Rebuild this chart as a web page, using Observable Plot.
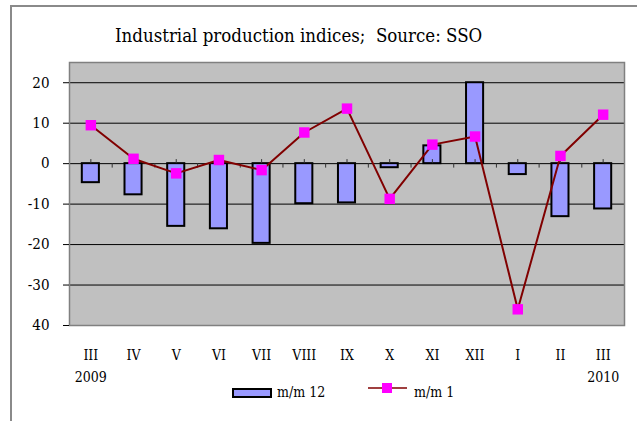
<!DOCTYPE html>
<html>
<head>
<meta charset="utf-8">
<script src="https://cdn.jsdelivr.net/npm/d3@7"></script>
<script src="https://cdn.jsdelivr.net/npm/@observablehq/plot@0.6"></script>
<style>
  html, body { margin: 0; padding: 0; background: #fff; }
  #wrap { position: relative; width: 637px; height: 421px; overflow: hidden; font-family: "DejaVu Serif", serif; font-stretch: condensed; }
  #border { position: absolute; left: 10px; top: 5px; width: 700px; height: 500px; border-top: 2px solid #8a8a8a; border-left: 2px solid #8a8a8a; }
  #title { position: absolute; left: 115px; top: 27px; font-size: 18.5px; line-height: 18px; white-space: pre; color: #000; }
  .lg { position: absolute; font-size: 14px; line-height: 14px; white-space: pre; color: #000; }
  #chart { position: absolute; left: 0; top: 0; }
</style>
</head>
<body>
<div id="wrap">
  <div id="chart"></div>
  <div id="border"></div>
  <div id="title">Industrial production indices;  Source: SSO</div>
  <div class="lg" style="left:232px;top:388px;width:36px;height:6px;background:#9999FF;border:2px solid #000;"></div>
  <div class="lg" style="left:277px;top:385px;">m/m 12</div>
  <svg class="lg" style="left:366px;top:382px;" width="44" height="12">
    <line x1="2" y1="6" x2="41" y2="6" stroke="#800000" stroke-width="1.5"/>
    <rect x="16" y="1" width="10" height="10" fill="#FF00FF"/>
  </svg>
  <div class="lg" style="left:414px;top:385px;">m/m 1</div>
</div>
<script>
const months = ["III","IV","V","VI","VII","VIII","IX","X","XI","XII","I","II","III"];
const m12 = [-4.7, -7.7, -15.5, -16.1, -19.7, -9.9, -9.7, -1.0, 4.4, 20.0, -2.7, -13.1, -11.2];
const m1 = [9.5, 1.2, -2.4, 0.9, -1.6, 7.7, 13.6, -8.7, 4.7, 6.7, -36.0, 1.9, 12.1];
const yearLabels = [{i: 0, text: "2009"}, {i: 12, text: "2010"}];
const yTicks = [-40, -30, -20, -10, 0, 10, 20];
const yTickLabels = ["40", "-30", "-20", "-10", "0", "10", "20"];
const gridVals = [-30, -20, -10, 0, 10, 20];

const data = months.map((m, i) => ({i, month: m, m12: m12[i], m1: m1[i]}));
const boundaries = data.map(d => d.i + 0.5);

const plot = Plot.plot({
  width: 637,
  height: 421,
  marginLeft: 69,
  marginRight: 13,
  marginTop: 62,
  marginBottom: 96,
  style: {fontFamily: "'DejaVu Serif', serif", fontStretch: "condensed", fontSize: "15px", background: "transparent", color: "#000"},
  x: {type: "linear", domain: [-0.5, 12.5], label: null},
  y: {domain: [-40, 25], label: null},
  marks: [
    Plot.frame({fill: "#C0C0C0", stroke: "none"}),
    Plot.ruleY(gridVals, {stroke: "#000", strokeWidth: 1}),
    Plot.rectY(data, {x1: d => d.i - 0.2, x2: d => d.i + 0.2, y1: 0, y2: "m12", fill: "#9999FF", stroke: "#000", strokeWidth: 2}),
    Plot.ruleX(data, {x: "i", y1: 0, y2: 1, stroke: "#333", strokeWidth: 1}),
    Plot.ruleX(boundaries, {x: d => d, y1: 0, y2: -1.1, stroke: "#333", strokeWidth: 1}),
    Plot.frame({stroke: "#808080", strokeWidth: 1.5}),
    Plot.line(data, {x: "i", y: "m1", stroke: "#800000", strokeWidth: 2}),
    Plot.dot(data, {x: "i", y: "m1", symbol: "square", r: 5.9, fill: "#FF00FF", stroke: "none"}),
    Plot.axisY({ticks: yTicks, tickFormat: d => yTickLabels[yTicks.indexOf(d)], tickSize: 6, tickPadding: 14, fontSize: 15, stroke: "#000", label: null}),
    Plot.axisX({ticks: data.map(d => d.i), tickFormat: i => months[i], tickSize: 0, tickPadding: 25, fontSize: 14, label: null}),
    Plot.text(yearLabels, {x: "i", text: "text", frameAnchor: "bottom", dy: 52, lineAnchor: "middle", fontSize: 14})
  ]
});
document.getElementById("chart").appendChild(plot);
</script>
</body>
</html>
